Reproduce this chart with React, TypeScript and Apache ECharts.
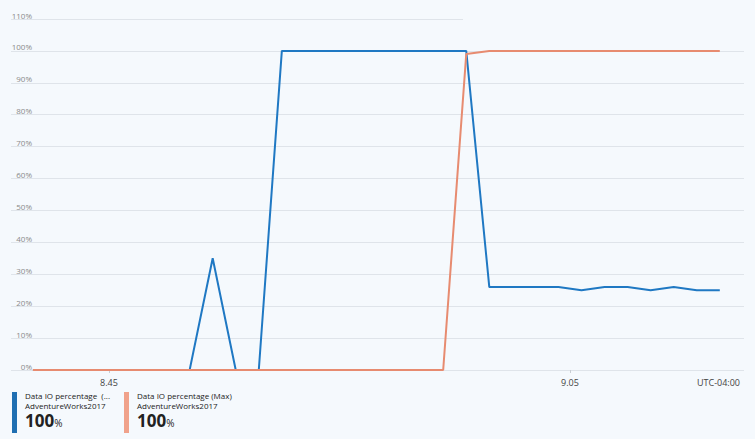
import React, { useEffect, useRef } from "react";
import * as echarts from "echarts";

// time in minutes after 8:00
const blueTimes = [41.7, 42.5, 43.5, 44.5, 45.5, 46.5, 47.5, 48.5, 49.5, 50.5, 51.5, 52.5, 53.5, 54.5, 55.5, 56.5, 57.5, 58.5, 59.5, 60.5, 61.5, 62.5, 63.5, 64.5, 65.5, 66.5, 67.5, 68.5, 69.5, 70.5, 71.5];
const blueValues = [0, 0, 0, 0, 0, 0, 0, 0, 35, 0, 0, 100, 100, 100, 100, 100, 100, 100, 100, 100, 26, 26, 26, 26, 25, 26, 26, 25, 26, 25, 25];
const orangeTimes = [41.7, 42.5, 43.5, 44.5, 45.5, 46.5, 47.5, 48.5, 49.5, 50.5, 51.5, 52.5, 53.5, 54.5, 55.5, 56.5, 57.5, 58.5, 59.5, 60.5, 61.5, 62.5, 63.5, 64.5, 65.5, 66.5, 67.5, 68.5, 69.5, 70.5, 71.5];
const orangeValues = [0, 0, 0, 0, 0, 0, 0, 0, 0, 0, 0, 0, 0, 0, 0, 0, 0, 0, 0, 99, 100, 100, 100, 100, 100, 100, 100, 100, 100, 100, 100];
const xTickValues = [45, 65];
const xTickLabels = ["8.45", "9.05"];
const xMin = 40.75;
const xMax = 72.55;
const topLineEnd = 60.36;
const seriesNames = ["Data IO percentage  (...", "Data IO percentage (Max)"];
const dbName = "AdventureWorks2017";
const legendValues = ["100", "100"];
const timezoneLabel = "UTC-04:00";

const BLUE = "#1f78c3";
const ORANGE = "#e78b70";
const GRID = "#dfe4ea";
const FONT = "'Open Sans', 'Noto Sans', sans-serif";

export default function App() {
  const ref = useRef<HTMLDivElement>(null);
  useEffect(() => {
    if (!ref.current) return;
    const chart = echarts.init(ref.current, undefined, { renderer: "svg" });
    const legendGraphic = (i: number, x: number, color: string) => [
      { type: "rect", left: x, top: 392, shape: { width: 5, height: 41 }, style: { fill: color } },
      { type: "text", left: x + 13, top: 391, style: { text: seriesNames[i], fontSize: 8, lineHeight: 9, fill: "#222", fontFamily: FONT } },
      { type: "text", left: x + 13, top: 401, style: { text: dbName, fontSize: 8, lineHeight: 9, fill: "#222", fontFamily: FONT } },
      {
        type: "text",
        left: x + 13,
        top: 412,
        style: {
          text: "{a|" + legendValues[i] + "}{b|%}",
          rich: {
            a: { fontSize: 17, fontWeight: "bold", fill: "#222", fontFamily: FONT, verticalAlign: "bottom" },
            b: { fontSize: 10, fill: "#222", fontFamily: FONT, verticalAlign: "bottom", padding: [0, 0, 1, 0] },
          },
        },
      },
    ];
    chart.setOption({
      animation: false,
      backgroundColor: "#f5f9fd",
      grid: { left: 11, right: 11, top: 19, bottom: 69, containLabel: false },
      xAxis: {
        type: "value",
        min: xMin,
        max: xMax,
        axisLine: { show: false },
        splitLine: { show: false },
        axisTick: { show: true, customValues: xTickValues, length: 3, lineStyle: { color: "#c8cdd3" } },
        axisLabel: {
          customValues: xTickValues,
          formatter: (v: number) => {
            const idx = xTickValues.indexOf(v);
            return idx >= 0 ? xTickLabels[idx] : "";
          },
          fontSize: 9,
          color: "#444",
          margin: 8,
          fontFamily: FONT,
        },
      },
      yAxis: {
        type: "value",
        min: 0,
        max: 110,
        interval: 10,
        axisLine: { show: false },
        axisTick: { show: false },
        axisLabel: {
          formatter: "{value}%",
          fontSize: 8,
          color: "#8a8a8a",
          margin: -21,
          verticalAlign: "bottom",
          fontFamily: FONT,
        },
        splitLine: { show: true, showMaxLine: false, lineStyle: { color: GRID, width: 1 } },
      },
      series: [
        {
          name: seriesNames[0],
          type: "line",
          data: blueTimes.map((t, i) => [t, blueValues[i]]),
          showSymbol: false,
          symbol: "none",
          lineStyle: { color: BLUE, width: 2 },
          itemStyle: { color: BLUE },
          markLine: {
            silent: true,
            symbol: ["none", "none"],
            label: { show: false },
            lineStyle: { color: GRID, width: 1, type: "solid" },
            data: [[{ coord: [xMin, 110] }, { coord: [topLineEnd, 110] }]],
          },
        },
        {
          name: seriesNames[1],
          type: "line",
          data: orangeTimes.map((t, i) => [t, orangeValues[i]]),
          showSymbol: false,
          symbol: "none",
          lineStyle: { color: ORANGE, width: 2 },
          itemStyle: { color: ORANGE },
        },
      ],
      graphic: [
        { type: "text", right: 15, top: 378, style: { text: timezoneLabel, fontSize: 9, fill: "#444", fontFamily: FONT } },
        ...legendGraphic(0, 12, "#1f6fb2"),
        ...legendGraphic(1, 124, "#f0a28b"),
      ],
    });
    return () => chart.dispose();
  }, []);
  return <div ref={ref} style={{ position: "fixed", left: 0, top: 0, width: 755, height: 439 }} />;
}
